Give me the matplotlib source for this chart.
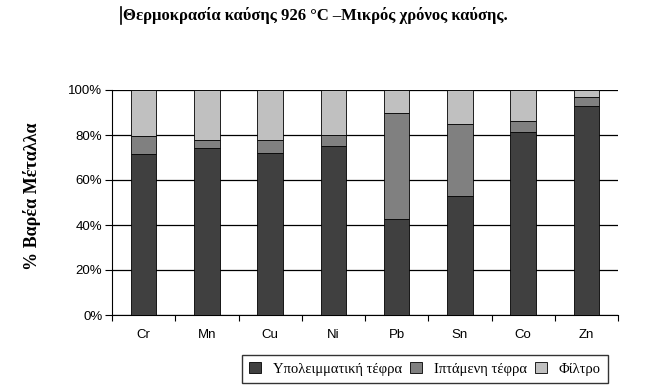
import matplotlib
matplotlib.use('Agg')
import matplotlib.pyplot as plt
import numpy as np
from matplotlib.patches import Patch

# stacked shares (%) per metal
metals = ['Cr', 'Mn', 'Cu', 'Ni', 'Pb', 'Sn', 'Co', 'Zn']
bottom_ash = [71.5, 74.4, 72.0, 75.0, 42.5, 53.0, 81.5, 92.9]
fly_ash = [8.0, 3.2, 5.6, 4.9, 47.3, 31.9, 4.9, 4.1]
filter_part = [100 - a - b for a, b in zip(bottom_ash, fly_ash)]

series_names = ['Υπολειμματική τέφρα', 'Ιπτάμενη τέφρα', 'Φίλτρο']
colors = ['#404040', '#808080', '#c0c0c0']
yticks = [0, 20, 40, 60, 80, 100]
ytick_labels = ['0%', '20%', '40%', '60%', '80%', '100%']

fig = plt.figure(figsize=(6.45, 3.92), dpi=100)
ax = fig.add_axes([112 / 645, 1 - 315 / 392, 506 / 645, 225 / 392])

x = np.arange(len(metals))
b0 = np.array(bottom_ash)
b1 = b0 + np.array(fly_ash)
ax.bar(x, bottom_ash, width=0.4, color=colors[0], edgecolor='black', linewidth=0.6, zorder=3)
ax.bar(x, fly_ash, width=0.4, bottom=b0, color=colors[1], edgecolor='black', linewidth=0.6, zorder=3)
ax.bar(x, filter_part, width=0.4, bottom=b1, color=colors[2], edgecolor='black', linewidth=0.6, zorder=3)

ax.set_xlim(-0.5, len(metals) - 0.5)
ax.set_ylim(0, 100)
ax.set_yticks(yticks)
ax.set_yticklabels(ytick_labels, fontfamily='Liberation Sans', fontsize=9.5)
ax.set_xticks(x)
ax.set_xticklabels(metals, fontfamily='Liberation Sans', fontsize=9.5)
ax.tick_params(axis='x', length=0, pad=10)
ax.set_xticks(np.arange(len(metals) + 1) - 0.5, minor=True)
ax.tick_params(axis='x', which='minor', length=4, direction='out', width=0.8)
ax.tick_params(axis='y', length=5, direction='out', width=0.8, pad=2)

ax.yaxis.grid(True, color='black', linewidth=0.9, zorder=0)
ax.set_axisbelow(True)
ax.spines['top'].set_visible(False)
ax.spines['right'].set_visible(False)

fig.text(32 / 645, 1 - 196 / 392, '% Βαρέα Μέταλλα', rotation=90, ha='center', va='center',
         fontfamily='Liberation Serif', fontweight='bold', fontsize=13)

fig.text(123 / 645, 1 - 15 / 392, 'Θερμοκρασία καύσης 926 °C –Μικρός χρόνος καύσης.',
         ha='left', va='center', fontfamily='Liberation Serif', fontweight='bold', fontsize=12)
fig.add_artist(plt.Line2D([121 / 645, 121 / 645], [1 - 24 / 392, 1 - 7 / 392], color='black', linewidth=1.2))

handles = [Patch(facecolor=c, edgecolor='black', linewidth=0.6) for c in colors]
leg = fig.legend(handles, series_names, loc='center', bbox_to_anchor=(425 / 645, 1 - 369 / 392),
                 ncol=3, frameon=True, fancybox=False, edgecolor='black',
                 prop={'family': 'Liberation Serif', 'size': 10.5},
                 handlelength=0.8, handleheight=0.8, handletextpad=0.8, columnspacing=0.6,
                 borderpad=0.5, borderaxespad=0)
leg.get_frame().set_linewidth(1.0)

fig.savefig('out.png', dpi=100)
